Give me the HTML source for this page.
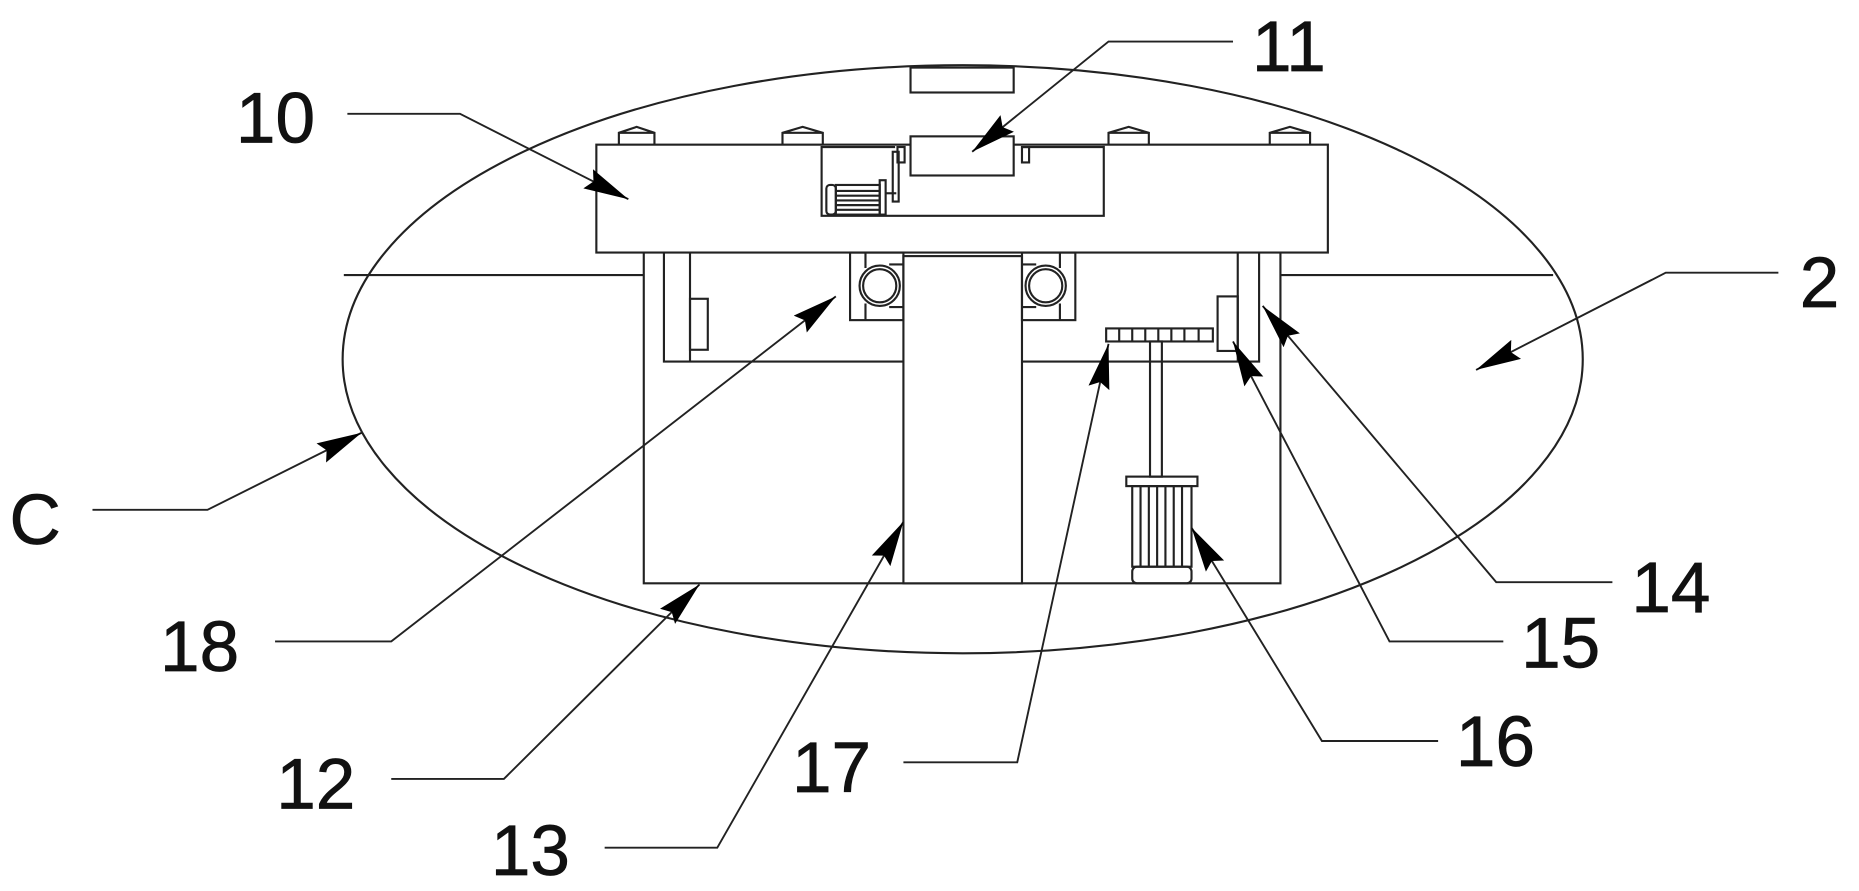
<!DOCTYPE html>
<html><head><meta charset="utf-8"><style>html,body{margin:0;padding:0;background:#fff}svg{display:block}</style></head>
<body>
<svg width="1859" height="891" viewBox="0 0 1568 751.5" xmlns="http://www.w3.org/2000/svg">
<defs>
<marker id="a" markerUnits="userSpaceOnUse" markerWidth="40" markerHeight="24" refX="38" refY="10" orient="auto">
<path d="M0,1 L38,10 L0,19 L5,10 Z" fill="#000"/>
</marker>
</defs>
<g fill="none" stroke="#222" stroke-width="1.8">
<ellipse cx="812" cy="303" rx="523" ry="248"/>
<rect x="768" y="57" width="87" height="21"/>
<line x1="290" y1="232" x2="543" y2="232"/>
<line x1="1080" y1="232" x2="1310" y2="232"/>
<rect x="503" y="122" width="617" height="91" fill="#fff"/>
<path d="M522,122 V112 L537,107 L552,112 V122 M522,112 H552"/>
<path d="M660,122 V112 L677,107 L694,112 V122 M660,112 H694"/>
<path d="M935,122 V112 L952,107 L969,112 V122 M935,112 H969"/>
<path d="M1071,122 V112 L1088,107 L1105,112 V122 M1071,112 H1105"/>
<path d="M693,123 V182 H931 V123"/>
<path d="M693,124 H755 M862,124 H931"/>
<rect x="768" y="115" width="87" height="33" fill="#fff"/>
<rect x="757" y="124" width="6" height="13"/><rect x="862" y="124" width="6" height="13"/>
<rect x="753" y="128" width="5" height="42"/>
<rect x="697" y="156" width="8" height="25" rx="3"/>
<rect x="705" y="156" width="37" height="25"/>
<path d="M705,161H742M705,165H742M705,169H742M705,173H742M705,177H742"/>
<rect x="742" y="152" width="5" height="29"/>
<path d="M747,163H756"/>
<path d="M543,213 V492 H1080 V213"/>
<path d="M560,213 V305 H1062 V213 M582,213 V305 M1044,213 V305"/>
<rect x="582" y="252" width="15" height="43"/>
<rect x="1027" y="250" width="17" height="46"/>
<rect x="762" y="216" width="100" height="276" fill="#fff"/>
<rect x="717" y="213" width="45" height="57"/>
<circle cx="742" cy="241" r="17"/><circle cx="742" cy="241" r="14"/>
<path d="M730,213V226M730,256V270M750,223H762M750,259H762"/>
<rect x="862" y="213" width="45" height="57"/>
<circle cx="882" cy="241" r="17"/><circle cx="882" cy="241" r="14"/>
<path d="M894,213V226M894,256V270M862,223H874M862,259H874"/>
<rect x="933" y="277" width="90" height="11"/>
<path d="M944,277V288M955,277V288M966,277V288M977,277V288M988,277V288M999,277V288M1011,277V288"/>
<rect x="970" y="288" width="10" height="114"/>
<rect x="950" y="402" width="60" height="8"/>
<rect x="955" y="410" width="50" height="68"/>
<path d="M962,410V478M969,410V478M976,410V478M983,410V478M990,410V478M997,410V478"/>
<rect x="955" y="478" width="50" height="14" rx="4"/>
</g>
<g fill="none" stroke="#222" stroke-width="1.6" marker-end="url(#a)">
<polyline points="293,96 388,96 530,168"/>
<polyline points="1040,35 935,35 820,128"/>
<polyline points="1500,230 1405,230 1245,312"/>
<polyline points="78,430 175,430 305,365"/>
<polyline points="232,541 330,541 705,250"/>
<polyline points="330,657 425,657 590,493"/>
<polyline points="510,715 605,715 762,440"/>
<polyline points="762,643 858,643 935,290"/>
<polyline points="1213,625 1115,625 1005,445"/>
<polyline points="1268,541 1172,541 1040,288"/>
<polyline points="1360,491 1262,491 1065,258"/>
</g>
<g font-family="Liberation Sans, sans-serif" font-size="60" fill="#111" stroke="#111" stroke-width="0.6">
<text x="199" y="120">10</text>
<text x="1056" y="60">11</text>
<text x="1518" y="259">2</text>
<text x="8" y="459">C</text>
<text x="135" y="566">18</text>
<text x="233" y="682">12</text>
<text x="414" y="738">13</text>
<text x="668" y="668">17</text>
<text x="1228" y="646">16</text>
<text x="1283" y="563">15</text>
<text x="1376" y="516">14</text>
</g>
</svg>
</body></html>
